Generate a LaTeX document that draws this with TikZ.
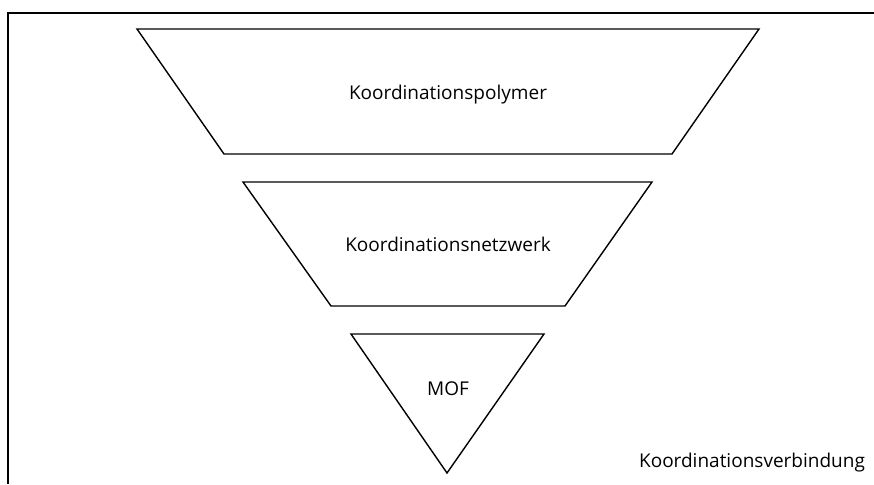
\documentclass[tikz,border=0pt]{standalone}
\usepackage{fontspec}
\setmainfont{Open Sans}
\begin{document}
\begin{tikzpicture}[x=1pt,y=-1pt,line width=1.4pt,line join=miter]
\fontsize{19}{22}\selectfont
\useasboundingbox (0,0) rectangle (874,484);
\path[draw] (8,484) -- (8,13) -- (874,13);
\begin{scope}
\coordinate (p1) at (137,29);
\coordinate (p2) at (759,29);
\coordinate (p3) at (672,154);
\coordinate (p4) at (224,154);
\path[draw] (p1) -- (p2) -- (p3) -- (p4) -- cycle;
\node (poly) at (448,95) {Koordinationspolymer};
\end{scope}
\begin{scope}
\coordinate (n1) at (243,182);
\coordinate (n2) at (652,182);
\coordinate (n3) at (565,306);
\coordinate (n4) at (331,306);
\path[draw] (n1) -- (n2) -- (n3) -- (n4) -- cycle;
\node (netz) at (448,244) {Koordinationsnetzwerk};
\end{scope}
\begin{scope}
\coordinate (m1) at (351,334);
\coordinate (m2) at (544,334);
\coordinate (m3) at (447,473);
\path[draw] (m1) -- (m2) -- (m3) -- cycle;
\node (mof) at (448,389) {MOF};
\end{scope}
\node (verb) at (752,463) {Koordinationsverbindung};
\end{tikzpicture}
\end{document}
